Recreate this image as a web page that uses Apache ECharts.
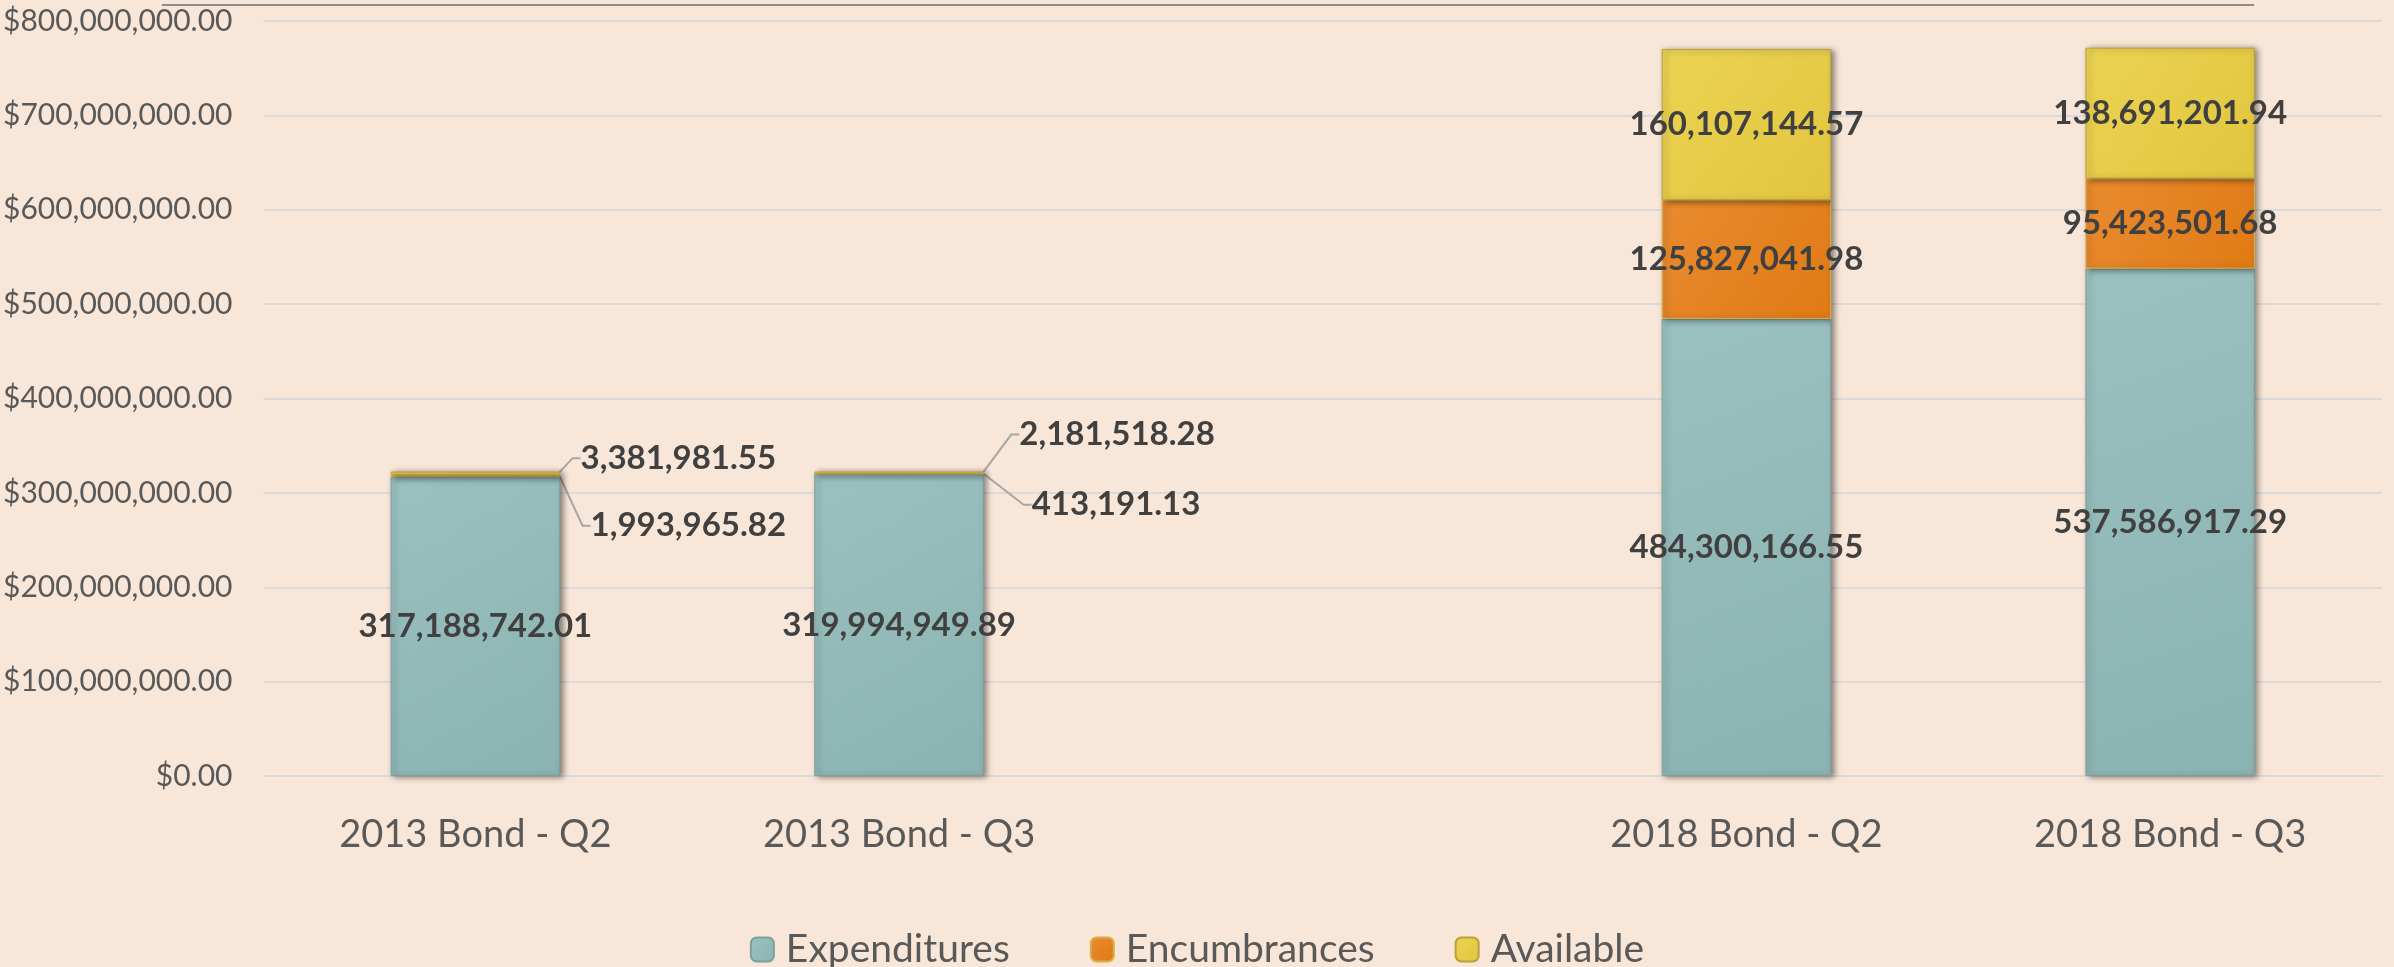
<!DOCTYPE html>
<html>
<head>
<meta charset="utf-8">
<script src="https://cdn.jsdelivr.net/npm/echarts@6/dist/echarts.min.js"></script>
<style>
html, body { margin: 0; padding: 0; background: #F8E7D8; }
#main { width: 2394px; height: 967px; }
</style>
</head>
<body>
<div id="main"></div>
<script>
var categories = ['2013 Bond - Q2', '2013 Bond - Q3', '', '2018 Bond - Q2', '2018 Bond - Q3'];
var expenditures = [317188742.01, 319994949.89, '-', 484300166.55, 537586917.29];
var encumbrances = [1993965.82, 413191.13, '-', 125827041.98, 95423501.68];
var available = [3381981.55, 2181518.28, '-', 160107144.57, 138691201.94];
var yTicks = { min: 0, max: 800000000, interval: 100000000 };

function money(v) {
    return Number(v).toLocaleString('en-US', { minimumFractionDigits: 2, maximumFractionDigits: 2 });
}

// labels of the thin 2013 segments sit outside the bar, with a leader line
var encOffsets = { 0: [213, 50], 1: [217, 31] };
var availOffsets = { 0: [203, -15], 1: [218, -38] };

function grad(a, b) {
    return new echarts.graphic.LinearGradient(0, 0, 1, 1, [
        { offset: 0, color: a },
        { offset: 1, color: b }
    ]);
}

var labelStyle = {
    show: true,
    position: 'inside',
    fontFamily: 'Lato',
    fontWeight: 'bold',
    fontSize: 33,
    color: '#404040',
    formatter: function(p) { return money(p.value); }
};

var barShadow = {
    shadowColor: 'rgba(0,0,0,0.45)',
    shadowBlur: 6,
    shadowOffsetX: 3,
    shadowOffsetY: 1
};

function makeSeries(name, data, c1, c2, border, offsets) {
    var s = {
        name: name,
        type: 'bar',
        stack: 'total',
        barWidth: '40%',
        data: data,
        itemStyle: Object.assign({
            color: grad(c1, c2),
            borderColor: border,
            borderWidth: 1
        }, barShadow),
        label: labelStyle,
        emphasis: { disabled: true }
    };
    if (offsets) {
        s.labelLayout = function(p) {
            var o = offsets[p.dataIndex];
            if (!o) return {};
            return { dx: o[0], dy: o[1] };
        };
        s.labelLine = {
            show: true,
            length2: 8,
            lineStyle: { color: '#A6A6A6', width: 2 }
        };
    }
    return s;
}

var option = {
    backgroundColor: '#F8E7D8',
    animation: false,
    textStyle: { fontFamily: 'Lato' },
    grid: { left: 261, right: 12, top: 21, bottom: 191 },
    legend: {
        data: ['Expenditures', 'Encumbrances', 'Available'],
        top: 925,
        left: 'center',
        itemWidth: 23,
        itemHeight: 24,
        itemGap: 80,
        textStyle: { fontFamily: 'Lato', fontSize: 39, color: '#595959', padding: [0, 0, 0, 7] }
    },
    xAxis: {
        type: 'category',
        data: categories,
        axisTick: { show: false },
        axisLine: { lineStyle: { color: '#DCDAD8', width: 2 } },
        axisLabel: { margin: 40, fontFamily: 'Lato', fontSize: 38, color: '#595959' }
    },
    yAxis: {
        type: 'value',
        min: yTicks.min,
        max: yTicks.max,
        interval: yTicks.interval,
        axisLine: { show: false },
        axisTick: { show: false },
        splitLine: { lineStyle: { color: '#DCDAD8', width: 2 } },
        axisLabel: {
            margin: 31,
            fontFamily: 'Lato',
            fontSize: 30,
            color: '#595959',
            formatter: function(v) { return '$' + money(v); }
        }
    },
    graphic: [{
        type: 'line',
        shape: { x1: 162, y1: 5, x2: 2254, y2: 5 },
        style: { stroke: '#8C8C8C', lineWidth: 2 }
    }],
    series: [
        makeSeries('Expenditures', expenditures, '#9AC1C0', '#8BB3B2', '#7E9F9E', null),
        makeSeries('Encumbrances', encumbrances, '#E98B30', '#E07A14', '#D9B04A', encOffsets),
        makeSeries('Available', available, '#EBD352', '#E2C53E', '#B9A03A', availOffsets)
    ]
};

var myChart = echarts.init(document.getElementById('main'));
myChart.setOption(option);
</script>
</body>
</html>
